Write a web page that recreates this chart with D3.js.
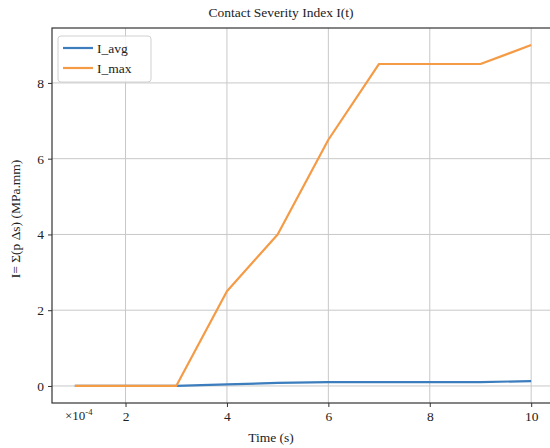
<!DOCTYPE html>
<html>
<head>
<meta charset="utf-8">
<script src="https://cdn.jsdelivr.net/npm/d3@7"></script>
<style>
  body { margin: 0; background: #fff; }
  text { font-family: "Liberation Serif", "DejaVu Serif", serif; fill: #222; }
</style>
</head>
<body>
<svg id="chart"></svg>
<script>
// time in units of 1e-4 s
var times = [1, 2, 3, 4, 5, 6, 7, 8, 9, 10];
var iAvg = [0, 0, 0, 0.04, 0.08, 0.1, 0.1, 0.1, 0.1, 0.13];
var iMax = [0, 0, 0, 2.5, 4, 6.5, 8.5, 8.5, 8.5, 9];
var xTicks = [2, 4, 6, 8, 10];
var yTicks = [0, 2, 4, 6, 8];
var seriesNames = ['I_avg', 'I_max'];
var seriesColors = ['#3b7dbd', '#f59a45'];

var width = 550, height = 448;
var margin = {top: 28, right: -4, bottom: 45, left: 52};
var fontSize = '13.5px';

var svg = d3.select('#chart')
    .attr('width', width)
    .attr('height', height);

var x = d3.scaleLinear()
    .domain([0.55, 10.45])
    .range([margin.left, width - margin.right]);
var y = d3.scaleLinear()
    .domain([-0.45, 9.45])
    .range([height - margin.bottom, margin.top]);

//grid
var grid = svg.append('g').attr('class', 'grid');
grid.selectAll('.vgrid')
    .data(xTicks)
    .enter().append('line')
    .attr('x1', d => x(d)).attr('x2', d => x(d))
    .attr('y1', y.range()[0]).attr('y2', y.range()[1])
    .attr('stroke', '#c8c8c8')
    .attr('stroke-width', 1);
grid.selectAll('.hgrid')
    .data(yTicks)
    .enter().append('line')
    .attr('y1', d => y(d)).attr('y2', d => y(d))
    .attr('x1', x.range()[0]).attr('x2', x.range()[1])
    .attr('stroke', '#c8c8c8')
    .attr('stroke-width', 1);

//lines
var series = [iAvg, iMax];
var line = d3.line()
    .x((d, i) => x(times[i]))
    .y(d => y(d));
// draw avg then max, max on top like matplotlib order
series.forEach(function(s, k) {
    svg.append('path')
        .datum(s)
        .attr('d', line)
        .attr('fill', 'none')
        .attr('stroke', seriesColors[k])
        .attr('stroke-width', 2.2)
        .attr('stroke-linejoin', 'round');
});

//frame
svg.append('rect')
    .attr('x', margin.left)
    .attr('y', margin.top)
    .attr('width', x.range()[1] - margin.left)
    .attr('height', y.range()[0] - margin.top)
    .attr('fill', 'none')
    .attr('stroke', '#333')
    .attr('stroke-width', 1.2);

//axes
var xAxis = svg.append('g')
    .attr('transform', 'translate(0,' + y.range()[0] + ')')
    .call(d3.axisBottom(x).tickValues(xTicks).tickSize(4).tickPadding(4));
var yAxis = svg.append('g')
    .attr('transform', 'translate(' + margin.left + ',0)')
    .call(d3.axisLeft(y).tickValues(yTicks).tickSize(4).tickPadding(4));
[xAxis, yAxis].forEach(function(a) {
    a.select('.domain').remove();
    a.selectAll('text')
        .style('font-family', '"Liberation Serif", serif')
        .style('font-size', fontSize)
        .attr('fill', '#222');
    a.selectAll('line').attr('stroke', '#333');
});

//offset text
svg.append('text')
    .attr('x', 65)
    .attr('y', 420)
    .style('font-size', '13px')
    .text('×10')
    .append('tspan')
    .attr('dy', -5)
    .style('font-size', '8.5px')
    .text('-4');

//labels
svg.append('text')
    .attr('x', 281)
    .attr('y', 17)
    .attr('text-anchor', 'middle')
    .style('font-size', fontSize)
    .text('Contact Severity Index I(t)');
svg.append('text')
    .attr('x', 271)
    .attr('y', 442)
    .attr('text-anchor', 'middle')
    .style('font-size', fontSize)
    .text('Time (s)');
svg.append('text')
    .attr('transform', 'translate(20,219) rotate(-90)')
    .attr('text-anchor', 'middle')
    .style('font-size', fontSize)
    .text('I= Σ(p Δs) (MPa.mm)');

//legend
var legend = svg.append('g').attr('class', 'legend');
legend.append('rect')
    .attr('x', 58).attr('y', 36)
    .attr('width', 93).attr('height', 46)
    .attr('rx', 3)
    .attr('fill', '#fff')
    .attr('fill-opacity', 0.85)
    .attr('stroke', '#d0d0d0');
seriesNames.forEach(function(name, k) {
    var ly = 48 + k * 20;
    legend.append('line')
        .attr('x1', 63).attr('x2', 93)
        .attr('y1', ly).attr('y2', ly)
        .attr('stroke', seriesColors[k])
        .attr('stroke-width', 2.2);
    legend.append('text')
        .attr('x', 97)
        .attr('y', ly + 4.5)
        .style('font-size', fontSize)
        .text(name);
});
</script>
</body>
</html>
